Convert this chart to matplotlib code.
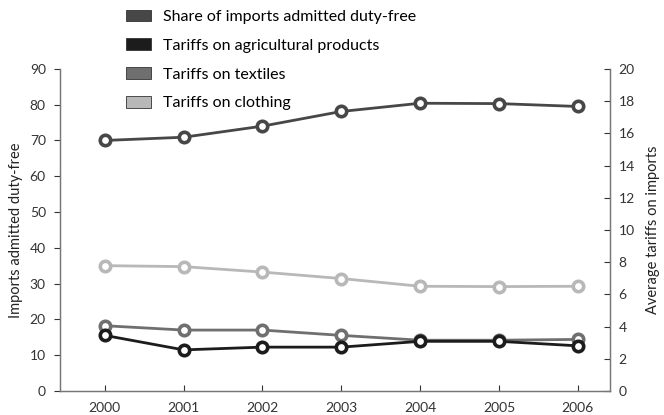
import matplotlib.pyplot as plt
from matplotlib.patches import Patch

years = [2000, 2001, 2002, 2003, 2004, 2005, 2006]
share_duty_free = [70.0, 70.9, 74.0, 78.1, 80.4, 80.3, 79.5]
tariff_agri = [3.45, 2.55, 2.72, 2.72, 3.08, 3.08, 2.8]
tariff_textiles = [4.05, 3.78, 3.78, 3.45, 3.15, 3.15, 3.2]
tariff_clothing = [7.78, 7.72, 7.38, 6.98, 6.5, 6.48, 6.5]

labels = ['Share of imports admitted duty-free', 'Tariffs on agricultural products',
          'Tariffs on textiles', 'Tariffs on clothing']
colors = ['#474747', '#1c1c1c', '#6f6f6f', '#b8b8b8']

plt.rcParams['font.family'] = ['Lato', 'DejaVu Sans']

fig = plt.figure(figsize=(6.64, 4.15), dpi=100)
ax = fig.add_axes([0.090, 0.058, 0.829, 0.776])
ax2 = ax.twinx()

mk = dict(marker='o', markersize=7.5, markerfacecolor='white', markeredgewidth=2.6, linewidth=2.0)
ax.plot(years, share_duty_free, color=colors[0], zorder=3, **mk)
ax2.plot(years, tariff_clothing, color=colors[3], zorder=2, **mk)
ax2.plot(years, tariff_textiles, color=colors[2], zorder=3, **mk)
ax2.plot(years, tariff_agri, color=colors[1], zorder=4, **mk)

ax.set_xlim(1999.43, 2006.41)
ax.set_ylim(0, 90)
ax2.set_ylim(0, 20)
ax.set_yticks(range(0, 91, 10))
ax2.set_yticks(range(0, 21, 2))
ax.set_xticks(years)

for a in (ax, ax2):
    a.spines['top'].set_visible(False)
    for s in a.spines.values():
        s.set_color('#777777')
        s.set_linewidth(0.9)
    a.tick_params(colors='#333333', labelsize=10, width=0.8, length=4)
ax.tick_params(axis='y', direction='out', pad=6)
ax2.tick_params(axis='y', direction='in', pad=6)
ax.tick_params(axis='x', direction='in', pad=8)

ax.set_ylabel('Imports admitted duty-free', fontsize=10.5, color='#222222', labelpad=5)
ax2.set_ylabel('Average tariffs on imports', fontsize=10.5, color='#222222', labelpad=8)

handles = [Patch(facecolor=c, edgecolor='#333333', linewidth=0.6) for c in colors]
fig.legend(handles, labels, loc='upper left', bbox_to_anchor=(0.175, 1.0), frameon=False,
           fontsize=11.5, handlelength=1.6, handleheight=0.75, labelspacing=0.9,
           handletextpad=0.75, borderaxespad=0.2)

fig.savefig('out.png', dpi=100)
